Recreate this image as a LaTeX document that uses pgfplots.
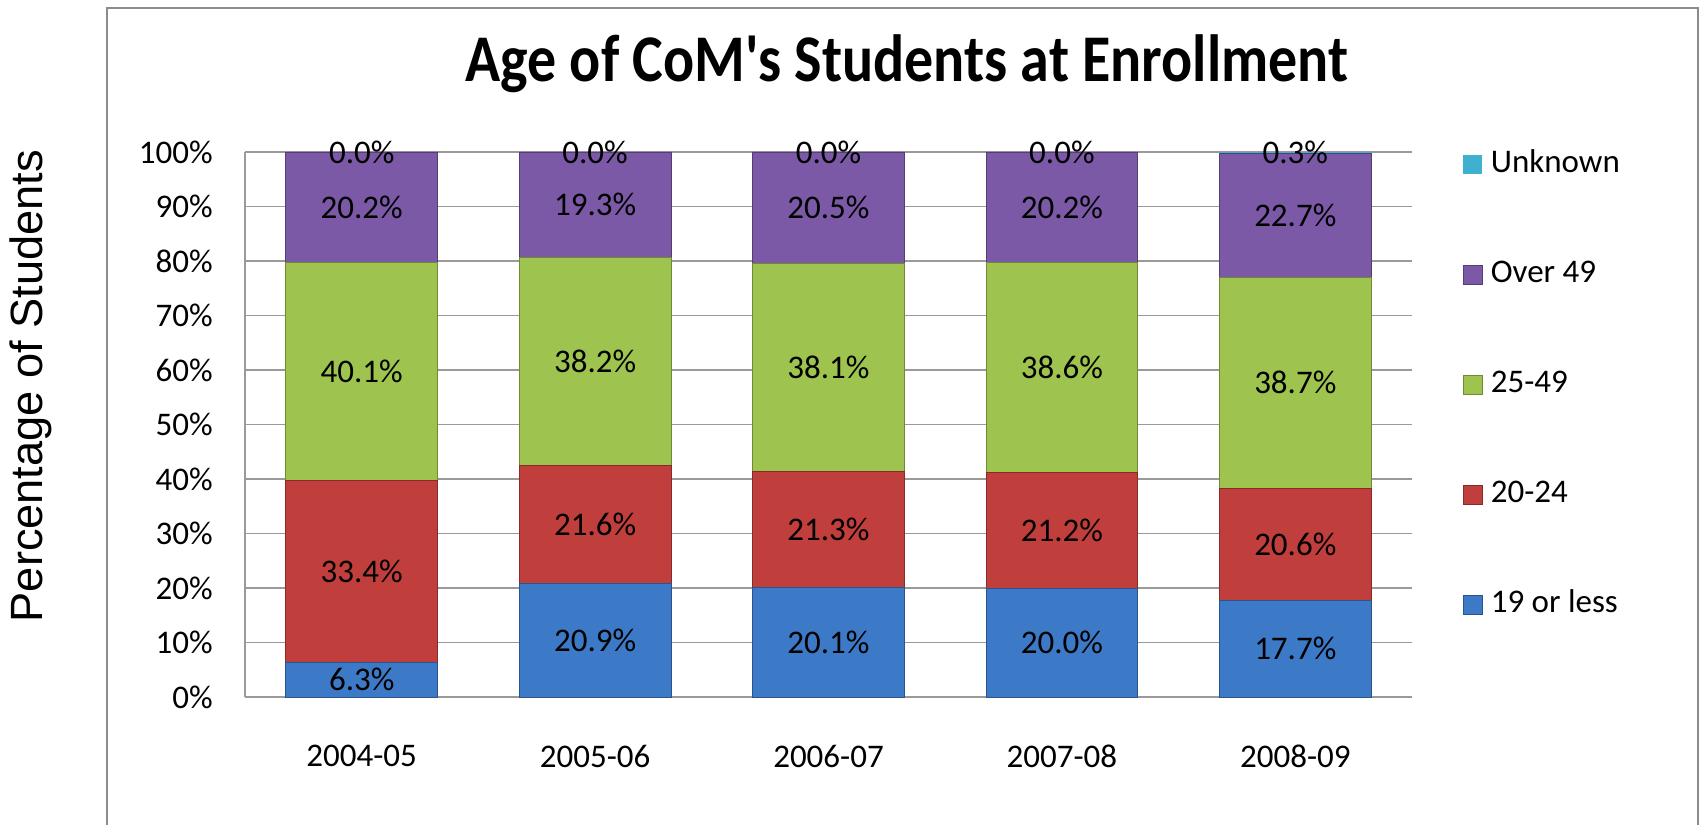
\documentclass[border=0pt]{standalone}
\usepackage{pgfplots}
\pgfplotsset{compat=1.18}
\usepackage{pgfplotstable}
\usepackage{fontspec}
\setmainfont{Carlito}
\newfontfamily\titlef{Carlito}
\newfontfamily\arialf{Liberation Sans}

\definecolor{cBlue}{HTML}{3C7AC8}
\definecolor{cRed}{HTML}{C03E3B}
\definecolor{cGreen}{HTML}{9EC44F}
\definecolor{cPurple}{HTML}{7B59A6}
\definecolor{cCyan}{HTML}{40B0D0}
\definecolor{frameGray}{HTML}{8C8C8C}
\definecolor{gridGray}{HTML}{9A9A9A}

\pgfplotstableread{
x a b c d e
0 6.3 33.4 40.1 20.2 0.0
1 20.9 21.6 38.2 19.3 0.0
2 20.1 21.3 38.1 20.5 0.0
3 20.0 21.2 38.6 20.2 0.0
4 17.7 20.6 38.7 22.7 0.3
}\data

\begin{document}
\begin{tikzpicture}
\path[use as bounding box] (0,0) rectangle (850pt,412pt);
\draw[color=frameGray, line width=1pt] (53.5pt,-10pt) -- (53.5pt,408pt) -- (849pt,408pt) -- (849pt,-10pt);
\node[anchor=base, font=\titlef\fontsize{29}{34}\selectfont\bfseries] at (453.5pt,371pt) {\scalebox{1}[1.15]{Age of CoM's Students at Enrollment}};
\node[rotate=90, font=\arialf\fontsize{22.6}{26}\selectfont] at (15.5pt,219pt) {Percentage of Students};

\pgfplotsset{common/.style={
  at={(122.5pt,63.5pt)}, anchor=south west, scale only axis,
  width=583.5pt, height=272.5pt,
  xmin=-0.5, xmax=4.5, ymin=0, ymax=100,
}}

\begin{axis}[common, ybar stacked, bar width=0.65,
  axis x line*=bottom, axis y line*=left,
  axis line style={-, draw=gridGray, line width=0.8pt},
  ymajorgrids, grid style={draw=gridGray, line width=0.8pt},
  ytick={0,10,...,100},
  yticklabels={0\%,10\%,20\%,30\%,40\%,50\%,60\%,70\%,80\%,90\%,100\%},
  xtick={0,1,2,3,4},
  xticklabels={2004-05,2005-06,2006-07,2007-08,2008-09},
  major tick length=0pt,
  xtick style={draw=none}, ytick style={draw=none},
  tick label style={font=\fontsize{16.5}{20}\selectfont},
  yticklabel style={inner sep=0pt, xshift=-16pt},
  xticklabel style={inner sep=0pt, yshift=-24pt},
  legend cell align=left,
  legend style={at={(1.0437,1.0026)}, anchor=north west, draw=none, fill=none,
    inner sep=0pt, outer sep=0pt, row sep=41pt, column sep=4pt,
    font=\fontsize{16.5}{20}\selectfont,
    nodes={inner sep=0pt, text height=11pt, text depth=3pt}},
  reverse legend,
  legend image code/.code={\fill[#1] (0pt,-4.75pt) rectangle (9.5pt,4.75pt);},
]
\addplot[fill=cBlue, draw=cBlue!70!black] table[x=x,y=a]{\data};
\addlegendentry{19 or less}
\addplot[fill=cRed, draw=cRed!70!black] table[x=x,y=b]{\data};
\addlegendentry{20-24}
\addplot[fill=cGreen, draw=cGreen!70!black] table[x=x,y=c]{\data};
\addlegendentry{25-49}
\addplot[fill=cPurple, draw=cPurple!70!black] table[x=x,y=d]{\data};
\addlegendentry{Over 49}
\addplot[fill=cCyan, draw=none] table[x=x,y=e]{\data};
\addlegendentry{Unknown}
\end{axis}

\begin{axis}[common, hide axis,
  /pgf/number format/assume math mode=true,
  point meta=explicit,
  nodes near coords={\pgfmathprintnumber[fixed,fixed zerofill,precision=1]{\pgfplotspointmeta}\%},
  every node near coord/.append style={anchor=center, inner sep=0pt, text=black,
    font=\fontsize{16.5}{20}\selectfont},
]
\addplot[draw=none] table[x=x, y expr=\thisrow{a}/2, meta=a]{\data};
\addplot[draw=none] table[x=x, y expr=\thisrow{a}+\thisrow{b}/2, meta=b]{\data};
\addplot[draw=none] table[x=x, y expr=\thisrow{a}+\thisrow{b}+\thisrow{c}/2, meta=c]{\data};
\addplot[draw=none] table[x=x, y expr=\thisrow{a}+\thisrow{b}+\thisrow{c}+\thisrow{d}/2, meta=d]{\data};
\addplot[draw=none] table[x=x, y expr=\thisrow{a}+\thisrow{b}+\thisrow{c}+\thisrow{d}+\thisrow{e}/2, meta=e]{\data};
\end{axis}
\end{tikzpicture}
\end{document}
